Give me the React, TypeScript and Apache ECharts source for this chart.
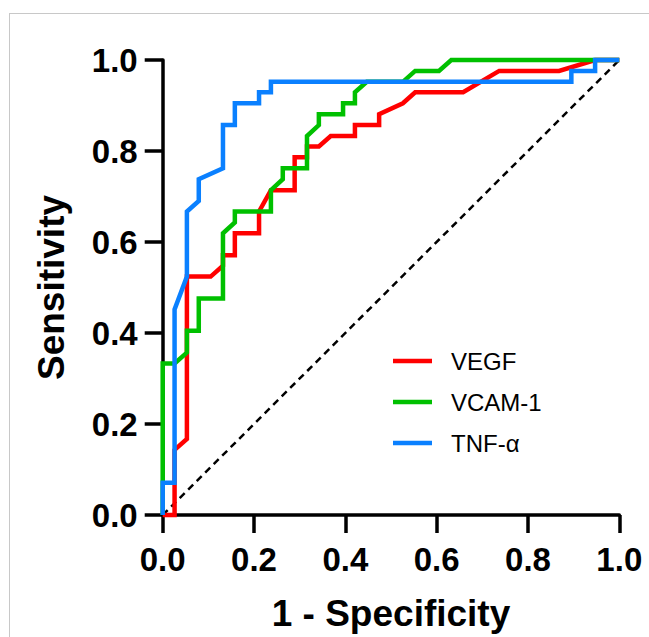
import React, { useEffect, useRef } from "react";
import * as echarts from "echarts";

const seriesNames = ["VEGF", "VCAM-1", "TNF-α"];
const seriesColors = ["#FF0000", "#00C000", "#0A80FF"];

const vegfX = [0, 0.026, 0.026, 0.053, 0.053, 0.105, 0.132, 0.132, 0.158, 0.158, 0.211, 0.211, 0.237, 0.289, 0.289, 0.316, 0.316, 0.342, 0.368, 0.421, 0.421, 0.474, 0.474, 0.526, 0.553, 0.658, 0.737, 0.868, 0.947, 1];
const vegfY = [0, 0, 0.143, 0.167, 0.524, 0.524, 0.548, 0.571, 0.571, 0.619, 0.619, 0.667, 0.714, 0.714, 0.786, 0.786, 0.81, 0.81, 0.833, 0.833, 0.857, 0.857, 0.881, 0.905, 0.929, 0.929, 0.976, 0.976, 1, 1];

const vcamX = [0, 0, 0.026, 0.053, 0.053, 0.079, 0.079, 0.132, 0.132, 0.158, 0.158, 0.237, 0.237, 0.263, 0.263, 0.316, 0.316, 0.342, 0.342, 0.395, 0.395, 0.421, 0.421, 0.447, 0.526, 0.553, 0.605, 0.632, 1];
const vcamY = [0, 0.333, 0.333, 0.357, 0.405, 0.405, 0.476, 0.476, 0.619, 0.643, 0.667, 0.667, 0.714, 0.738, 0.762, 0.762, 0.833, 0.857, 0.881, 0.881, 0.905, 0.905, 0.929, 0.952, 0.952, 0.976, 0.976, 1, 1];

const tnfX = [0, 0, 0.026, 0.026, 0.053, 0.053, 0.079, 0.079, 0.132, 0.132, 0.158, 0.158, 0.211, 0.211, 0.237, 0.237, 0.895, 0.895, 0.947, 0.947, 1];
const tnfY = [0, 0.071, 0.071, 0.452, 0.524, 0.667, 0.69, 0.738, 0.762, 0.857, 0.857, 0.905, 0.905, 0.929, 0.929, 0.952, 0.952, 0.976, 0.976, 1, 1];

const refX = [0, 1];
const refY = [0, 1];

const xTitle = "1 - Specificity";
const yTitle = "Sensitivity";

const FONT = "'Liberation Sans', Arial, sans-serif";

function pairs(xs: number[], ys: number[]) {
  return xs.map((x, i) => [x, ys[i]]);
}

export default function App() {
  const ref = useRef<HTMLDivElement>(null);
  useEffect(() => {
    if (!ref.current) return;
    const chart = echarts.init(ref.current, null, { renderer: "svg" });
    const curves = [pairs(vegfX, vegfY), pairs(vcamX, vcamY), pairs(tnfX, tnfY)];
    const axisCommon = {
      type: "value" as const,
      min: 0,
      max: 1,
      interval: 0.2,
      nameLocation: "middle" as const,
      nameTextStyle: { fontFamily: FONT, fontWeight: "bold" as const, fontSize: 37, color: "#000" },
      axisLine: { show: true, onZero: false, lineStyle: { color: "#000", width: 3.5 } },
      axisTick: { show: true, length: 18, lineStyle: { color: "#000", width: 3.5 } },
      axisLabel: {
        fontFamily: FONT,
        fontWeight: "bold" as const,
        fontSize: 33,
        color: "#000",
        formatter: (v: number) => v.toFixed(1),
      },
      splitLine: { show: false },
    };
    chart.setOption({
      animation: false,
      backgroundColor: "#fff",
      grid: { left: 162.7, right: 29.7, top: 60, bottom: 118, containLabel: false },
      xAxis: { ...axisCommon, name: xTitle, nameGap: 80, axisLabel: { ...axisCommon.axisLabel, margin: 28 } },
      yAxis: { ...axisCommon, name: yTitle, nameGap: 93, axisLabel: { ...axisCommon.axisLabel, margin: 25 } },
      legend: {
        orient: "vertical",
        left: 388,
        top: 344,
        icon: "rect",
        itemWidth: 39,
        itemHeight: 4.5,
        itemGap: 17,
        data: seriesNames,
        textStyle: { fontFamily: FONT, fontSize: 24, color: "#000", lineHeight: 24, padding: [0, 0, 0, 14] },
      },
      graphic: [
        { type: "line", shape: { x1: 9, y1: 13.5, x2: 649, y2: 13.5 }, style: { stroke: "#C8C8C8", lineWidth: 1 } },
        { type: "line", shape: { x1: 9.5, y1: 13.5, x2: 9.5, y2: 637 }, style: { stroke: "#C8C8C8", lineWidth: 1 } },
      ],
      series: [
        {
          type: "line",
          data: pairs(refX, refY),
          symbol: "none",
          silent: true,
          clip: false,
          z: 1,
          lineStyle: { color: "#000", width: 2.5, type: [7, 5] },
        },
        ...curves.map((d, i) => ({
          name: seriesNames[i],
          type: "line",
          data: d,
          symbol: "none",
          clip: false,
          z: 2 + i,
          color: seriesColors[i],
          lineStyle: { color: seriesColors[i], width: 4.5, join: "miter", cap: "butt" },
        })),
      ],
    });
    return () => chart.dispose();
  }, []);
  return <div ref={ref} style={{ position: "absolute", left: 0, top: 0, width: 649, height: 637 }} />;
}
